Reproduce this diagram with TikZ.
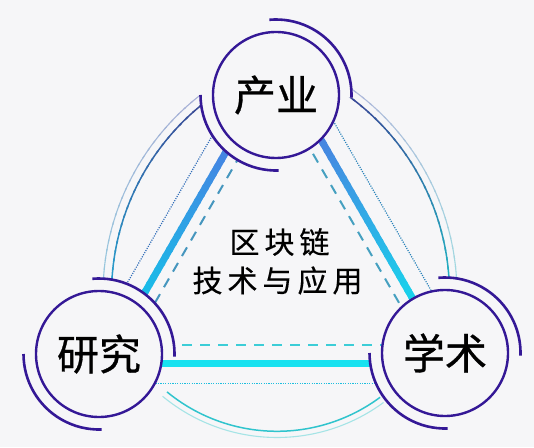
\documentclass[tikz,border=0pt]{standalone}
\usepackage{fontspec}
\newfontfamily\cjk[FakeBold=0.7]{Noto Sans CJK SC}
\newfontfamily\cjkc[FakeBold=0.4]{Noto Sans CJK SC}
\usetikzlibrary{calc}
\definecolor{bg}{RGB}{246,246,248}
\definecolor{ring}{RGB}{52,24,150}
\definecolor{thLA}{RGB}{72,128,226}
\definecolor{thLB}{RGB}{22,192,232}
\definecolor{thRA}{RGB}{72,132,224}
\definecolor{thRB}{RGB}{24,212,236}
\definecolor{thB}{RGB}{24,226,240}
\definecolor{daL}{RGB}{70,150,190}
\definecolor{daR}{RGB}{70,160,192}
\definecolor{daB}{RGB}{60,205,215}
\definecolor{doL}{RGB}{50,110,185}
\definecolor{doR}{RGB}{40,130,185}
\definecolor{doB}{RGB}{30,190,222}
\definecolor{aLoA}{RGB}{168,176,214}
\definecolor{aLoB}{RGB}{150,200,222}
\definecolor{aLiA}{RGB}{58,70,148}
\definecolor{aLiB}{RGB}{40,160,205}
\definecolor{aRoA}{RGB}{176,184,218}
\definecolor{aRoB}{RGB}{160,218,225}
\definecolor{aRiA}{RGB}{58,70,150}
\definecolor{aRiB}{RGB}{35,180,195}
\definecolor{aBi}{RGB}{48,196,205}
\definecolor{aBo}{RGB}{165,228,230}
% gradient arc: center, radius, start, end, colA, colB, width
\newcommand\gradarc[7]{%
  \foreach \k in {0,...,23}{%
    \pgfmathsetmacro\angA{#3+(#4-#3)*\k/24}%
    \pgfmathsetmacro\angB{#3+(#4-#3)*min(\k+1.3,24)/24}%
    \pgfmathtruncatemacro\mixp{100*\k/23}%
    \draw[line width=#7, #6!\mixp!#5] ($(#1)+(\angA:#2)$) arc[start angle=\angA, end angle=\angB, radius=#2];
  }}
% gradient line: A, B, colA, colB, width
\newcommand\gradline[5]{%
  \foreach \k in {0,...,23}{%
    \pgfmathsetmacro\tA{\k/24}%
    \pgfmathsetmacro\tB{min(\k+1.3,24)/24}%
    \pgfmathtruncatemacro\mixp{100*\k/23}%
    \draw[line width=#5, #4!\mixp!#3] ($(#1)!\tA!(#2)$) -- ($(#1)!\tB!(#2)$);
  }}
\tikzset{
  ringline/.style={draw=ring, line width=2.6pt},
  hub/.style={circle, draw=ring, line width=2.4pt, fill=bg, minimum size=126pt, inner sep=0pt,
    font=\cjk\fontsize{42}{42}\selectfont, text=black},
  dashedline/.style={line width=2pt, dash pattern=on 10pt off 8pt},
  dottedline/.style={line width=1.2pt, dash pattern=on 1.1pt off 1.3pt},
  centertext/.style={font=\cjkc\fontsize{30}{30}\selectfont, text=black, inner sep=0pt}
}
\newcommand\masksectors[1]{%
  \fill[bg] (#1) -- ($(#1)+(-2:75.5)$) arc[start angle=-2, end angle=95, radius=75.5] -- cycle;
  \fill[bg] (#1) -- ($(#1)+(180:75.5)$) arc[start angle=180, end angle=272, radius=75.5] -- cycle;}
\newcommand\ringarcs[1]{%
  \draw[ringline] ($(#1)+(95:75.5)$) arc[start angle=95, end angle=-2, radius=75.5];
  \draw[ringline] ($(#1)+(180:75.5)$) arc[start angle=180, end angle=272, radius=75.5];}
\begin{document}
\begin{tikzpicture}[x=1pt,y=1pt]
\useasboundingbox (0,0) rectangle (534,447);
\fill[bg] (0,0) rectangle (534,447);
% hub centres
\coordinate (CT) at (276,352);
\coordinate (CL) at (99,93);
\coordinate (CR) at (445,94);
% big arc centres
\coordinate (arcL) at (355,153);
\coordinate (arcR) at (205,153);
\coordinate (arcB) at (277,189);
% big double arcs
\gradarc{arcL}{252}{128}{178}{aLoA}{aLoB}{1.1pt}
\gradarc{arcL}{243.5}{127}{178}{aLiA}{aLiB}{1.5pt}
\gradarc{arcR}{252}{56}{2}{aRoA}{aRoB}{1.1pt}
\gradarc{arcR}{244.5}{55}{2}{aRiA}{aRiB}{1.5pt}
\draw[line width=1.1pt, aBo] ($(arcB)+(230.4:179.5)$) arc[start angle=230.4, end angle=306.4, radius=179.5];
\draw[line width=1.5pt, aBi] ($(arcB)+(230.6:173.3)$) arc[start angle=230.6, end angle=306.5, radius=173.3];
% triangles (centroid 277,183.5)
\coordinate (Ta) at (277,383.5);
\coordinate (Tb) at (103.8,83.5);
\coordinate (Tc) at (450.2,83.5);
\coordinate (Oa) at (277,423.5);
\coordinate (Ob) at (69.2,63.5);
\coordinate (Oc) at (484.8,63.5);
\coordinate (Da) at (277,355.5);
\coordinate (Db) at (128,97.5);
\coordinate (Dc) at (426,97.5);
\coordinate (Dbl) at (128,102);
\coordinate (Dbr) at (426,102);
% dotted
\draw[dottedline, doL] (Oa) -- (Ob);
\draw[dottedline, doR] (Oa) -- (Oc);
\draw[dottedline, doB] (Ob) -- (Oc);
% dashed
\draw[dashedline, daL] (Da) -- (Db);
\draw[dashedline, daR] (Da) -- (Dc);
\draw[dashedline, daB] (Dbl) -- (Dbr);
% thick
\coordinate (tl1) at ($(Ta)!0.25!(Tb)$);
\coordinate (tl2) at ($(Ta)!0.8!(Tb)$);
\coordinate (tr1) at ($(Ta)!0.24!(Tc)$);
\coordinate (tr2) at ($(Ta)!0.8!(Tc)$);
\gradline{tl1}{tl2}{thLA}{thLB}{7pt}
\gradline{tr1}{tr2}{thRA}{thRB}{7pt}
\coordinate (tb1) at (120,83.5);
\coordinate (tb2) at (430,83.5);
\draw[line width=7pt, thB] (tb1) -- (tb2);
% hubs
\masksectors{CT}
\masksectors{CL}
\masksectors{CR}
\node[hub] (T) at (CT) {产业};
\node[hub] (L) at (CL) {研究};
\node[hub] (R) at (CR) {学术};
\ringarcs{CT}
\ringarcs{CL}
\ringarcs{CR}
% centre text
\node[centertext] (line1) at (279.5,205) {区\hspace{5pt}块\hspace{5pt}链};
\node[centertext] (line2) at (277.5,166.5) {技\hspace{5pt}术\hspace{5pt}与\hspace{5pt}应\hspace{5pt}用};
\end{tikzpicture}
\end{document}
